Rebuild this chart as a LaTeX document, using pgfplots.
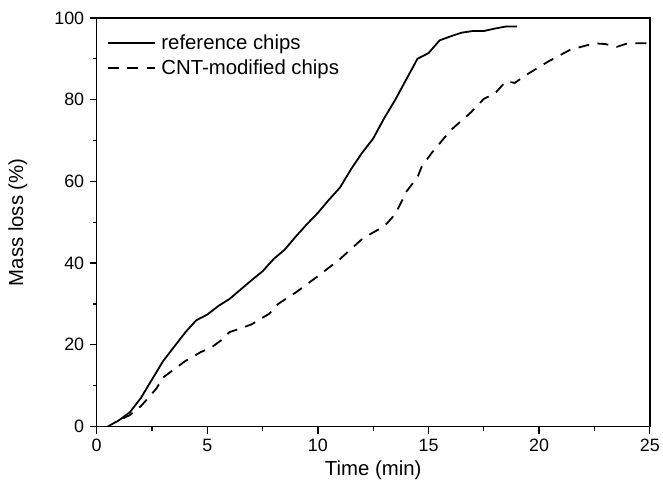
\documentclass[border=0pt]{standalone}
\usepackage{fontspec}
\setmainfont{Liberation Sans}
\usepackage{pgfplots}
\pgfplotsset{compat=1.18}

\begin{document}
\begin{tikzpicture}
\begin{axis}[
    name=ax,
    scale only axis,
    width=555bp, height=410bp,
    xmin=0, xmax=25,
    ymin=0, ymax=100,
    xtick={0,5,10,15,20,25},
    ytick={0,20,40,60,80,100},
    minor xtick={2.5,7.5,12.5,17.5,22.5},
    minor ytick={10,30,50,70,90},
    tick pos=left,
    tick align=outside,
    major tick length=7bp,
    minor tick length=4bp,
    every tick/.style={line width=1.3bp, black},
    axis line style={line width=1.6bp},
    /pgf/number format/assume math mode=true,
    ticklabel style={font=\fontsize{18}{21}\selectfont},
    yticklabel style={xshift=-2bp},
    xticklabel style={yshift=-2bp},
    xlabel={Time (min)},
    ylabel={Mass loss (\%)},
    label style={font=\fontsize{20.5}{24}\selectfont},
    xlabel style={at={([yshift=-44bp]axis description cs:0.5,0)}, anchor=center},
    ylabel style={at={([xshift=-79bp]axis description cs:0,0.5)}, anchor=center},
    legend style={draw=none, fill=none,
        at={([xshift=7bp,yshift=-13bp]axis description cs:0,1)}, anchor=north west,
        font=\fontsize{20.5}{24}\selectfont, row sep=5bp, column sep=3bp,
        nodes={inner xsep=3bp}},
    legend cell align=left,
    legend image code/.code={\draw[#1] (0bp,0bp) -- (47bp,0bp);},
]
\addplot[black, line width=1.8bp] coordinates {
    (0.5,0)(1,1.5)(1.5,3.5)(2,7)(2.5,11.5)(3,16)(3.5,19.5)(4,23)(4.5,26)
    (5,27.4)(5.5,29.5)(6,31.2)(6.5,33.5)(7,35.8)(7.5,38)(8,41)(8.5,43.3)
    (9,46.5)(9.5,49.5)(10,52.3)(10.5,55.5)(11,58.5)(11.5,63)(12,67)
    (12.5,70.5)(13,75.5)(13.5,80)(14,85)(14.5,90)(15,91.4)(15.5,94.5)
    (16,95.5)(16.5,96.4)(17,96.8)(17.5,96.8)(18,97.4)(18.5,97.9)(19,97.9)
};
\addplot[black, line width=1.8bp, dash pattern=on 11bp off 8.5bp] coordinates {
    (1.2,2)(1.5,2.8)(2,5)(2.3,6.8)(2.7,9.3)(3,12)(3.5,14)(4,16)(4.7,18.2)
    (5.2,19.4)(5.6,21)(6,23.1)(6.5,24)(7,25)(7.4,26.3)(7.8,27.6)(8.2,30)
    (9,32.8)(10,36.8)(11,41)(12,45.9)(12.5,47.5)(13,49)(13.5,52)(14,57.5)
    (14.5,61)(14.7,63.7)(15.15,67)(16,72.5)(16.9,76.8)(17.5,80.2)(18,81.5)
    (18.5,84.5)(18.9,84.1)(19.4,86)(20.4,89.3)(21.4,92.2)(22.5,93.8)
    (23,93.6)(23.5,92.9)(24,93.8)(25,93.8)
};
\legend{reference chips, CNT-modified chips}
\end{axis}
\path ([shift={(-97bp,-63bp)}]ax.south west) rectangle ([shift={(11bp,18bp)}]ax.north east);
\end{tikzpicture}
\end{document}
